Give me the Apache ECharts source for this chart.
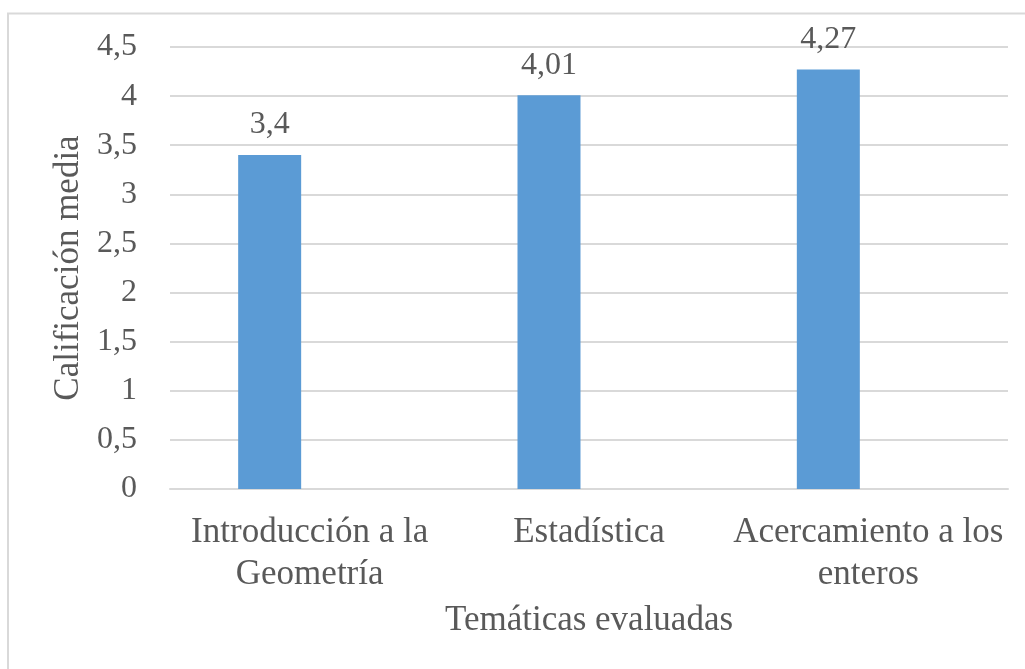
<!DOCTYPE html>
<html>
<head>
<meta charset="utf-8">
<script src="https://cdn.jsdelivr.net/npm/echarts@6/dist/echarts.min.js"></script>
<style>
html,body{margin:0;padding:0;background:#fff;}
#chart{width:1025px;height:669px;}
</style>
</head>
<body>
<div id="chart"></div>
<script>
var categories = ['Introducción a la\nGeometría', 'Estadística', 'Acercamiento a los\nenteros'];
var values = [3.4, 4.01, 4.27];
var emptyValues = ['-', '-', '-'];
var yTicks = { min: 0, max: 4.5, interval: 0.5 };
var xTitle = 'Temáticas evaluadas';
var yTitle = 'Calificación media';

var FONT = "'Liberation Serif', 'Times New Roman', serif";
var TXT = '#595959';
function comma(v) { return String(v).replace('.', ','); }

var chart = echarts.init(document.getElementById('chart'), null, { renderer: 'canvas' });
chart.setOption({
  animation: false,
  backgroundColor: '#fff',
  graphic: [{
    type: 'rect', silent: true, z: 100,
    shape: { x: 8, y: 13.5, width: 1100, height: 800 },
    style: { fill: 'none', stroke: '#d9d9d9', lineWidth: 2 }
  }],
  grid: { left: 170, right: 17, top: 47, bottom: 180, containLabel: false },
  xAxis: {
    type: 'category',
    data: categories,
    name: xTitle,
    nameLocation: 'middle',
    nameGap: 114,
    nameTextStyle: { fontFamily: FONT, fontSize: 35, color: TXT },
    axisLine: { show: true, lineStyle: { color: '#d9d9d9', width: 2 } },
    axisTick: { show: false },
    axisLabel: { interval: 0, margin: 23, fontFamily: FONT, fontSize: 35, lineHeight: 42, color: TXT }
  },
  yAxis: {
    type: 'value',
    min: yTicks.min, max: yTicks.max, interval: yTicks.interval,
    name: yTitle,
    nameLocation: 'middle',
    nameGap: 58,
    nameRotate: 90,
    nameTextStyle: { fontFamily: FONT, fontSize: 35, color: TXT },
    axisLine: { show: false },
    axisTick: { show: false },
    splitLine: { lineStyle: { color: '#d9d9d9', width: 2 } },
    axisLabel: { margin: 33, fontFamily: FONT, fontSize: 32, color: TXT, formatter: comma }
  },
  series: [{
    type: 'bar',
    data: values,
    barWidth: 63,
    barGap: '27%',
    itemStyle: { color: '#5b9bd5' },
    label: { show: true, position: 'top', distance: 14, fontFamily: FONT, fontSize: 32, color: TXT,
      formatter: function (p) { return comma(p.value); } }
  }, {
    type: 'bar',
    data: emptyValues,
    barWidth: 63,
    itemStyle: { color: '#ed7d31' }
  }]
});
</script>
</body>
</html>
